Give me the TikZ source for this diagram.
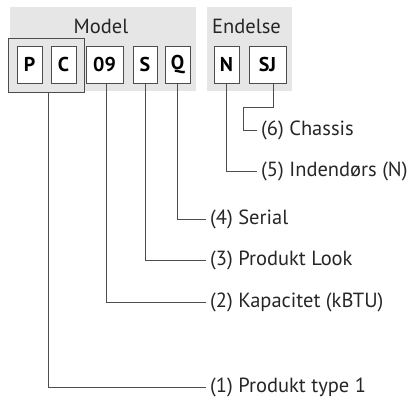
\documentclass[tikz,border=0pt]{standalone}
\usepackage{fontspec}
\setmainfont{PT Sans}
\usepackage{tikz}
\usetikzlibrary{calc,positioning}
\definecolor{panelgray}{HTML}{E6E6E6}
\definecolor{leadgray}{HTML}{4D4D4D}

\begin{document}
\begin{tikzpicture}[x=1pt,y=-1pt,
                    panel/.style={fill=panelgray,draw=none},
                    letterbox/.style={draw=leadgray,fill=white,line width=0.8pt,inner sep=0pt,
                                      minimum height=37pt,font=\bfseries\fontsize{20}{24}\selectfont},
                    grouptitle/.style={font=\fontsize{20.5}{24}\selectfont,text=black!85},
                    codelabel/.style={anchor=west,inner sep=4pt,font=\fontsize{20.5}{24}\selectfont,text=black!85},
                    lead/.style={draw=leadgray,line width=0.8pt}]
                    \useasboundingbox (0,0) rectangle (413,398);
                    \fill[panel] (10,7) rectangle (196,91);
                    \fill[panel] (207,7) rectangle (292,91);
                    \node[grouptitle] (model) at (101,26) {Model};
                    \node[grouptitle] (endelse) at (246.5,26) {Endelse};
                    \draw[leadgray,line width=0.8pt,fill=panelgray] (8,38) rectangle (84,92);
                    \coordinate (pc) at (48,92);
                    \node[letterbox,minimum width=25pt] (p) at (29.5,64.5) {P};
                    \node[letterbox,minimum width=25pt] (c) at (63.5,64.5) {C};
                    \node[letterbox,minimum width=37pt] (cap) at (104.5,64.5) {09};
                    \node[letterbox,minimum width=24pt] (s) at (145,64.5) {S};
                    \node[letterbox,minimum width=25pt] (q) at (177.5,64.5) {Q};
                    \node[letterbox,minimum width=25pt] (n) at (226.5,64.5) {N};
                    \node[letterbox,minimum width=37pt] (sj) at (267.5,64.5) {SJ};
                    \node[codelabel] (t6) at (257,130) {(6) Chassis};
                    \node[codelabel] (t5) at (257,171) {(5) Indendørs (N)};
                    \node[codelabel] (t4) at (206,219) {(4) Serial};
                    \node[codelabel] (t3) at (206,260) {(3) Produkt Look};
                    \node[codelabel] (t2) at (206,302) {(2) Kapacitet (kBTU)};
                    \node[codelabel] (t1) at (206,387) {(1) Produkt type 1};
                    \coordinate (sjbend) at (243,107);
                    \draw[lead] ([xshift=5.5pt]sj.south) |- (sjbend) |- (t6.west);
                    \draw[lead] (n.south) |- (t5.west);
                    \draw[lead] (q.south) |- (t4.west);
                    \draw[lead] (s.south) |- (t3.west);
                    \draw[lead] ([xshift=1.5pt]cap.south) |- (t2.west);
                    \draw[lead] (pc) |- (t1.west);
                \end{tikzpicture}
\end{document}
